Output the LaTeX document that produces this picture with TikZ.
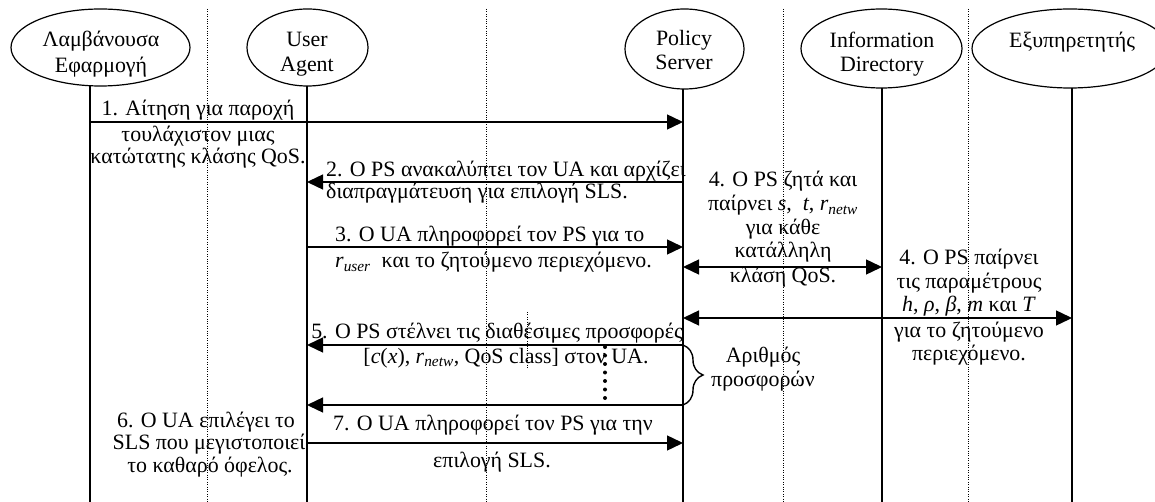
\documentclass[tikz,border=0pt]{standalone}
\usepackage{fontspec}
\setmainfont{Liberation Serif}
\usetikzlibrary{arrows.meta,shapes.geometric,decorations.pathreplacing}
\newcommand{\sbt}[1]{\textsubscript{\itshape #1}}
\begin{document}
\begin{tikzpicture}[x=1pt,y=-1pt,
  every node/.style={font=\fontsize{21.9}{24}\selectfont, inner sep=0pt},
  actor/.style={draw, ellipse, line width=1.2pt},
  life/.style={line width=1.4pt},
  guide/.style={line width=0.8pt, dash pattern=on 0.8pt off 1.6pt},
  msg/.style={line width=1.4pt, -{Triangle[length=16pt,width=15pt]}},
  bimsg/.style={line width=1.4pt, {Triangle[length=16pt,width=15pt]}-{Triangle[length=16pt,width=15pt]}},
  lbl/.style={anchor=base},
  lbll/.style={anchor=base west},
  ]
\useasboundingbox (0,0) rectangle (1155,502);

% actors
\node[actor, minimum width=179pt, minimum height=77pt] (la) at (100.5,47.5) {};
\node[actor, minimum width=121pt, minimum height=77pt] (ua) at (307.5,47.5) {};
\node[actor, minimum width=119pt, minimum height=80pt] (ps) at (684.5,49) {};
\node[actor, minimum width=161pt, minimum height=79pt] (id) at (881.5,48.5) {};
\node[actor, minimum width=196pt, minimum height=79pt] (sv) at (1070,48.5) {};

\node[lbl] (laA) at (101,47) {Λαμβάνουσα};
\node[lbl] (laB) at (101,73) {Εφαρμογή};
\node[lbl] (uaA) at (307,47) {User};
\node[lbl] (uaB) at (307,72) {Agent};
\node[lbl] (psA) at (684,46) {Policy};
\node[lbl] (psB) at (684,70) {Server};
\node[lbl] (idA) at (882,48) {Information};
\node[lbl] (idB) at (882,72) {Directory};
\node[lbl] (svA) at (1072,48) {Εξυπηρετητής};

% guide lines
\foreach \gx/\gn in {207/g1,486/g2,783/g3,968/g4}{
  \coordinate (\gn t) at (\gx,9);
  \coordinate (\gn b) at (\gx,502);
  \draw[guide] (\gn t) -- (\gn b);
}
\coordinate (g5t) at (527,312);
\coordinate (g5b) at (527,368);
\draw[guide] (g5t) -- (g5b);

% lifelines
\coordinate (laT) at (90,86);   \coordinate (laE) at (90,502);
\coordinate (uaT) at (307,86);  \coordinate (uaE) at (307,502);
\coordinate (psT) at (683,89);  \coordinate (psE) at (683,502);
\coordinate (idT) at (882,88);  \coordinate (idE) at (882,502);
\coordinate (svT) at (1072,88); \coordinate (svE) at (1072,502);
\draw[life] (laT) -- (laE);
\draw[life] (uaT) -- (uaE);
\draw[life] (psT) -- (psE);
\draw[life] (idT) -- (idE);
\draw[life] (svT) -- (svE);

% message points
\coordinate (m1a) at (90,122);  \coordinate (m1b) at (683,122);
\coordinate (m2a) at (683,182); \coordinate (m2b) at (307,182);
\coordinate (m3a) at (307,247); \coordinate (m3b) at (683,247);
\coordinate (m4a) at (683,267); \coordinate (m4b) at (882,267);
\coordinate (m4c) at (683,318); \coordinate (m4d) at (1072,318);
\coordinate (m5a) at (683,345); \coordinate (m5b) at (307,345);
\coordinate (m5c) at (683,405); \coordinate (m5d) at (307,405);
\coordinate (m7a) at (307,443); \coordinate (m7b) at (683,443);

\draw[msg] (m1a) -- (m1b);
\draw[msg] (m2a) -- (m2b);
\draw[msg] (m3a) -- (m3b);
\draw[bimsg] (m4a) -- (m4b);
\draw[bimsg] (m4c) -- (m4d);
\draw[msg] (m5a) -- (m5b);
\draw[msg] (m5c) -- (m5d);
\draw[msg] (m7a) -- (m7b);
\draw[line width=1.4pt, decorate, decoration={brace, amplitude=20pt}] (m5a) -- (m5c);

\coordinate (dt) at (605,347);
\coordinate (db) at (605,398);
\draw[line width=4pt, line cap=round, dash pattern=on 0pt off 8.5pt] (dt) -- (db);

% labels
\node[lbl] (t1a) at (198,116) {1. Αίτηση για παροχή};
\node[lbl] (t1b) at (198,142) {τουλάχιστον μιας};
\node[lbl] (t1c) at (198,164) {κατώτατης κλάσης QoS.};

\node[lbll] (t2a) at (326,177) {2. Ο PS ανακαλύπτει τον UA και αρχίζει};
\node[lbll] (t2b) at (326,199) {διαπραγμάτευση για επιλογή SLS.};

\node[lbll] (t3a) at (335,242) {3. Ο UA πληροφορεί τον PS για το};
\node[lbll] (t3b) at (335,268) {\textit{r}\sbt{user}\ \ και το ζητούμενο περιεχόμενο.};

\node[lbl] (t4a) at (783,187) {4. Ο PS ζητά και};
\node[lbl] (t4b) at (783,211) {παίρνει \textit{s},\ \ \textit{t}, \textit{r}\sbt{netw}};
\node[lbl] (t4c) at (783,235) {για κάθε};
\node[lbl] (t4d) at (783,258) {κατάλληλη};
\node[lbl] (t4e) at (783,283) {κλάση QoS.};

\node[lbl] (t4f) at (969,265) {4. Ο PS παίρνει};
\node[lbl] (t4g) at (969,288) {τις παραμέτρους};
\node[lbl] (t4h) at (969,312) {\textit{h}, \textit{ρ}, \textit{β}, \textit{m} και \textit{T}};
\node[lbl] (t4i) at (969,337) {για το ζητούμενο};
\node[lbl] (t4j) at (969,360) {περιεχόμενο.};

\node[lbl] (t5a) at (497,338) {5. Ο PS στέλνει τις διαθέσιμες προσφορές};
\node[lbl] (t5b) at (506,363) {[\textit{c}(\textit{x}), \textit{r}\sbt{netw}, QoS class] στον UA.};

\node[lbl] (t5c) at (763,362) {Αριθμός};
\node[lbl] (t5d) at (763,386) {προσφορών};

\node[lbl] (t6a) at (206,427) {6. Ο UA επιλέγει το};
\node[lbl] (t6b) at (209,449) {SLS που μεγιστοποιεί};
\node[lbl] (t6c) at (210,472) {το καθαρό όφελος.};

\node[lbl] (t7a) at (493,430) {7. Ο UA πληροφορεί τον PS για την};
\node[lbl] (t7b) at (492,467) {επιλογή SLS.};
\end{tikzpicture}
\end{document}
